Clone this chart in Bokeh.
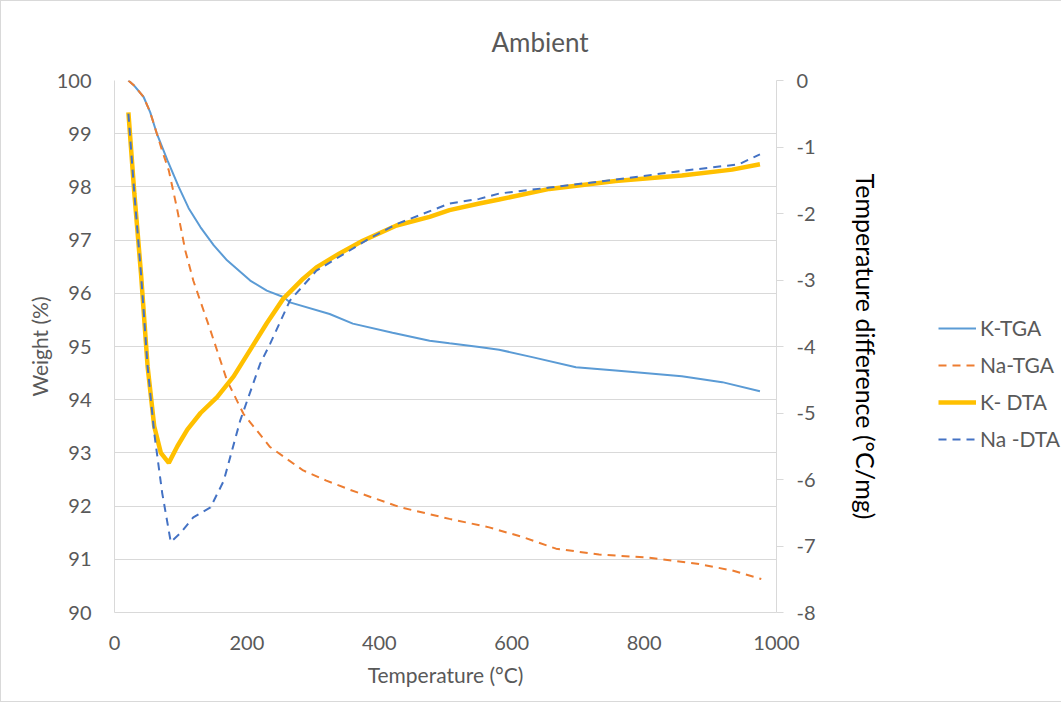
from bokeh.plotting import figure
from bokeh.models import Range1d, LinearAxis, Legend, LegendItem, FixedTicker, PrintfTickFormatter
from bokeh.embed import file_html
from bokeh.resources import INLINE

# ---- data ----
k_tga_t = [21, 30, 44, 54, 64, 80, 97, 112, 130, 150, 170, 205, 230, 255, 265, 325, 360, 420, 476, 506, 551, 581, 631, 697, 757, 857, 918, 975]
k_tga_w = [100.0, 99.9, 99.69, 99.4, 99.0, 98.5, 98.0, 97.6, 97.24, 96.9, 96.62, 96.24, 96.05, 95.93, 95.83, 95.61, 95.43, 95.26, 95.11, 95.06, 94.99, 94.94, 94.80, 94.61, 94.55, 94.44, 94.33, 94.16]

na_tga_t = [21, 30, 44, 54, 64, 72, 82, 94, 107, 119, 145, 170, 195, 235, 285, 320, 355, 431, 506, 566, 616, 667, 732, 807, 883, 933, 977]
na_tga_w = [100.0, 99.9, 99.69, 99.4, 99.0, 98.68, 98.31, 97.62, 96.8, 96.24, 95.30, 94.36, 93.73, 93.11, 92.67, 92.48, 92.31, 91.98, 91.76, 91.60, 91.42, 91.20, 91.09, 91.03, 90.91, 90.79, 90.63]

k_dta_t = [21, 30, 40, 50, 60, 70, 82, 95, 110, 130, 155, 180, 205, 230, 255, 285, 305, 340, 375, 426, 476, 506, 551, 581, 657, 757, 857, 933, 975]
k_dta_v = [-0.48, -1.7, -2.9, -4.3, -5.2, -5.6, -5.75, -5.5, -5.25, -5.0, -4.76, -4.45, -4.05, -3.65, -3.28, -2.98, -2.81, -2.6, -2.41, -2.18, -2.05, -1.95, -1.85, -1.79, -1.63, -1.51, -1.43, -1.34, -1.26]

na_dta_t = [21, 30, 40, 50, 60, 72, 85, 100, 119, 145, 165, 190, 220, 235, 265, 305, 386, 426, 506, 551, 581, 657, 757, 857, 943, 975]
na_dta_v = [-0.5, -1.7, -2.9, -4.3, -5.3, -6.2, -6.94, -6.8, -6.57, -6.42, -6.02, -5.11, -4.26, -3.96, -3.31, -2.86, -2.37, -2.16, -1.85, -1.78, -1.70, -1.61, -1.49, -1.36, -1.26, -1.11]

x_ticks = [0, 200, 400, 600, 800, 1000]
w_ticks = [90, 91, 92, 93, 94, 95, 96, 97, 98, 99, 100]
d_ticks = [-8, -7, -6, -5, -4, -3, -2, -1, 0]

FONT = "Lato"
GRAY = "#595959"
LIGHT = "#d9d9d9"

p = figure(frame_width=662, frame_height=532,
           min_border_left=113, min_border_right=284, min_border_top=79, min_border_bottom=89,
           x_range=Range1d(0, 1000), y_range=Range1d(90, 100),
           output_backend="svg", toolbar_location=None,
           title="Ambient")
p.styles = {"border": "1px solid #d9d9d9"}
p.outline_line_color = None
p.background_fill_color = "white"
p.border_fill_color = "white"

p.title.text_font = FONT
p.title.text_font_size = "26px"
p.title.text_font_style = "normal"
p.title.text_color = GRAY
p.title.align = "left"
p.title.offset = 377
p.title.standoff = 45

p.extra_y_ranges = {"dta": Range1d(-8, 0)}

# grid
p.xgrid.visible = False
p.ygrid.grid_line_color = LIGHT
p.ygrid.grid_line_width = 1
p.ygrid.ticker = FixedTicker(ticks=w_ticks)

# bottom axis
xa = p.xaxis[0]
xa.ticker = FixedTicker(ticks=x_ticks)
xa.axis_label = "Temperature (°C)"
xa.axis_line_color = LIGHT
xa.major_tick_line_color = None
xa.minor_tick_line_color = None
xa.major_label_standoff = 17
xa.axis_label_standoff = 9

# left axis
ya = p.yaxis[0]
ya.ticker = FixedTicker(ticks=w_ticks)
ya.axis_label = "Weight (%)"
ya.axis_line_color = LIGHT
ya.major_tick_line_color = None
ya.minor_tick_line_color = None
ya.major_label_standoff = 17
ya.axis_label_standoff = 2

# right axis
ra = LinearAxis(y_range_name="dta", ticker=FixedTicker(ticks=d_ticks),
                formatter=PrintfTickFormatter(format="%d"))
ra.axis_label = "Temperature difference (°C/mg)"
ra.axis_line_color = LIGHT
ra.major_tick_line_color = LIGHT
ra.major_tick_in = 0
ra.major_tick_out = 7
ra.minor_tick_line_color = None
ra.major_label_standoff = 13
ra.axis_label_standoff = 32
p.add_layout(ra, "right")

for ax in (xa, ya, ra):
    ax.major_label_text_font = FONT
    ax.major_label_text_font_size = "20px"
    ax.major_label_text_color = GRAY
    ax.axis_label_text_font = FONT
    ax.axis_label_text_font_style = "normal"
    ax.axis_label_text_font_size = "21px"
    ax.axis_label_text_color = GRAY
ra.axis_label_text_font_size = "25px"
ra.axis_label_text_color = "black"

r1 = p.line(k_tga_t, k_tga_w, line_color="#5B9BD5", line_width=2)
r2 = p.line(na_tga_t, na_tga_w, line_color="#ED7D31", line_width=2, line_dash="8 6")
r3 = p.line(k_dta_t, k_dta_v, line_color="#FFC000", line_width=4.5, y_range_name="dta")
r4 = p.line(na_dta_t, na_dta_v, line_color="#4472C4", line_width=2, line_dash="8 6", y_range_name="dta")

legend = Legend(items=[LegendItem(label="K-TGA", renderers=[r1]),
                       LegendItem(label="Na-TGA", renderers=[r2]),
                       LegendItem(label="K- DTA", renderers=[r3]),
                       LegendItem(label="Na -DTA", renderers=[r4])],
                location=(-177, 161))
legend.border_line_color = None
legend.background_fill_alpha = 0
legend.padding = 0
legend.margin = 0
legend.spacing = 12
legend.glyph_width = 38
legend.glyph_height = 20
legend.label_height = 20
legend.label_standoff = 4
legend.label_text_font = FONT
legend.label_text_font_size = "21px"
legend.label_text_color = GRAY
legend.label_text_baseline = "middle"
p.add_layout(legend, "right")

open("out.html", "w").write(file_html(p, INLINE))
